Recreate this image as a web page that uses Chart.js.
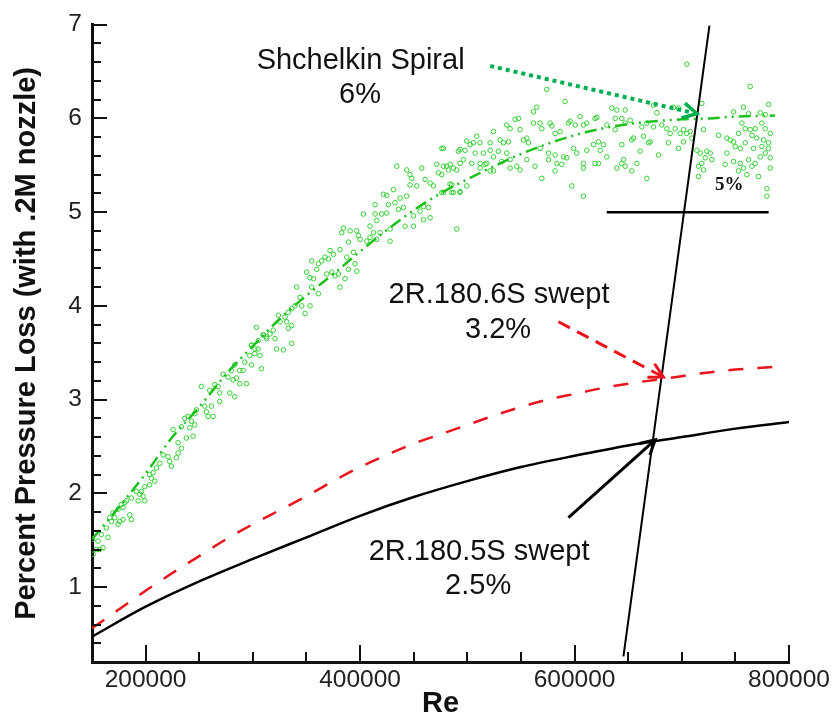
<!DOCTYPE html>
<html><head><meta charset="utf-8">
<script src="https://cdn.jsdelivr.net/npm/chart.js@4.4.0/dist/chart.umd.min.js"></script>
<style>html,body{margin:0;padding:0;background:#fff;}#wrap{width:835px;height:721px;}</style>
</head><body><div id="wrap"><canvas id="c" width="835" height="721"></canvas></div>
<script>
// ---- tick labels ----
const xTickValues = [200000, 400000, 600000, 800000];
const yTickValues = [1, 2, 3, 4, 5, 6, 7];

// ---- Shchelkin Spiral fit (dash-dot-dot) ----
const spiralFitRe = [150000,175000,200000,225000,250000,275000,300000,325000,350000,375000,400000,425000,450000,475000,500000,525000,550000,575000,600000,625000,650000,675000,700000,725000,750000,787000];
const spiralFitLoss = [1.51,1.85,2.21,2.60,2.92,3.27,3.57,3.86,4.11,4.34,4.58,4.81,5.02,5.20,5.35,5.49,5.62,5.73,5.82,5.89,5.94,5.97,5.99,6.00,6.02,6.03];

// ---- 2R.180.6S swept (red dashed) ----
const swept6SRe = [150000,175000,200000,225000,250000,275000,300000,325000,350000,375000,400000,425000,450000,475000,500000,525000,550000,575000,600000,625000,650000,675000,700000,725000,750000,775000,790000];
const swept6SLoss = [0.56,0.76,0.96,1.15,1.33,1.51,1.67,1.82,1.97,2.13,2.28,2.41,2.53,2.63,2.73,2.83,2.92,3.00,3.06,3.12,3.17,3.21,3.25,3.29,3.32,3.34,3.35];

// ---- 2R.180.5S swept (black solid) ----
const swept5SRe = [150000,200000,250000,300000,350000,400000,450000,500000,550000,600000,650000,700000,750000,800000];
const swept5SLoss = [0.47,0.79,1.06,1.30,1.53,1.76,1.96,2.13,2.28,2.40,2.51,2.60,2.69,2.76];

// ---- reference lines ----
const slantLineRe = [645600, 725800];
const slantLineLoss = [0.26, 6.99];
const fivePctLineRe = [630000, 781000];
const fivePctLineLoss = [5, 5];

// ---- annotation arrows ----
const spiralArrowRe = [521300, 714100];
const spiralArrowLoss = [6.56, 6.05];
const arrow6SRe = [585000, 682900];
const arrow6SLoss = [3.83, 3.24];
const arrow5SRe = [594300, 675200];
const arrow5SLoss = [1.74, 2.57];

// ---- annotation texts ----
const noteTexts = ['Shchelkin Spiral', '6%', '2R.180.6S swept', '3.2%', '2R.180.5S swept', '2.5%'];
const noteRe = [400500, 400000, 529600, 528700, 511000, 510100];
const noteLoss = [6.616, 6.245, 4.113, 3.742, 1.377, 1.006];
const fivePctText = '5%';
const fivePctRe = 744200;
const fivePctLoss = 5.29;

// ---- Shchelkin Spiral measured points [Re, loss] ----
const spiralScatter = [
[303400,3.77],[309600,3.69],[312700,3.67],[298700,3.58],[304900,3.54],[301800,3.49],[306500,3.47],[297100,3.47],[292500,3.40],[298700,3.37],[308000,3.33],[283100,3.37],[290900,3.31],[287800,3.31],[280000,3.31],[276900,3.24],[284700,3.23],[281600,3.21],[272300,3.27],[264500,3.16],[267600,3.14],[259800,3.10],[252000,3.14],[294000,3.17],[287800,3.17],[278500,3.07],[283100,3.03],[269100,3.07],[269100,2.98],[261400,2.93],[262900,2.82],[258300,2.82],[256700,2.87],[255200,2.93],[247400,2.89],[245800,2.85],[239600,2.82],[236500,2.80],[242700,2.77],[241200,2.70],[245800,2.73],[233400,2.71],[238000,2.59],[244300,2.61],[225600,2.68],[230300,2.54],[233400,2.48],[230300,2.43],[228700,2.38],[220900,2.39],[216300,2.41],[222500,2.34],[224000,2.29],[213200,2.32],[210100,2.27],[203800,2.20],[207000,2.22],[205400,2.16],[208500,2.13],[203800,2.09],[199200,2.07],[196100,2.02],[194500,1.99],[191400,2.02],[197600,1.97],[199200,1.92],[193000,1.92],[186700,1.95],[182100,1.92],[180500,1.90],[177400,1.88],[179000,1.85],[174300,1.83],[169600,1.79],[171200,1.74],[175800,1.70],[174300,1.67],[168100,1.70],[163400,1.63],[166500,1.74],[185200,1.77],[186700,1.72],[179000,1.72],[158700,1.56],[155600,1.49],[160300,1.42],[157200,1.40],[151000,1.35],[154100,1.40],[165000,1.53],[150500,1.51],
[476200,5.68],[493300,5.67],[434200,5.49],[443500,5.45],[457500,5.47],[471500,5.51],[477700,5.49],[484000,5.51],[482400,5.45],[473100,5.42],[476200,5.40],[446600,5.40],[448200,5.36],[460600,5.35],[465300,5.31],[468400,5.28],[446600,5.29],[452900,5.28],[431100,5.24],[421800,5.19],[424900,5.18],[443500,5.17],[437300,5.15],[432600,5.10],[426400,5.08],[414000,5.08],[440400,5.05],[435800,5.03],[485500,5.29],[493300,5.22],[485500,5.21],[477700,5.21],[463700,5.05],[459100,5.06],[456000,5.01],[465300,4.94],[459100,4.92],[449800,4.96],[442000,4.85],[449800,4.85],[428000,4.82],[428000,4.69],[418700,4.78],[412400,4.78],[409300,4.85],[415500,4.71],[406200,4.69],[403100,4.98],[414000,4.98],[420200,4.98],[415500,4.91],[424900,4.99],[396900,4.80],[390700,4.80],[384400,4.83],[382900,4.78],[400000,4.71],[398400,4.75],[409300,4.73],[389100,4.68],[381300,4.60],[375100,4.55],[372000,4.59],[393800,4.57],[387600,4.52],[370400,4.50],[367300,4.52],[364200,4.48],[361100,4.45],[354900,4.48],[359600,4.39],[350200,4.36],[353300,4.30],[356500,4.29],[368900,4.34],[373600,4.36],[376700,4.32],[379800,4.34],[386000,4.29],[395300,4.45],[396900,4.37],[389100,4.39],[381300,4.20],[361100,4.13],[354900,4.20],[340900,4.20],[344000,4.09],[339300,4.00],[345600,4.00],[353300,4.00],[348700,3.92],[336200,3.97],[333100,3.93],[330000,3.88],[323800,3.90],[325400,3.83],[331600,3.83],[336200,3.79],[333100,3.76],[319100,3.74],[316000,3.70],[309800,3.69],[312900,3.65],[305100,3.63],[298900,3.58],[302000,3.54],[320700,3.65],[336200,3.60],[328500,3.53],[322200,3.54],[490200,4.82],
[704700,6.58],[763800,6.34],[574100,6.31],[591200,6.18],[564800,6.12],[561700,6.07],[634800,6.11],[639400,6.09],[647200,6.09],[676800,6.06],[673600,6.14],[692300,6.12],[697000,6.11],[718700,6.16],[757600,6.12],[780900,6.15],[748300,6.07],[762300,6.05],[773200,6.06],[777800,6.04],[544600,5.99],[547700,6.00],[536800,5.93],[539900,5.89],[549200,5.88],[561700,5.95],[567900,5.95],[569500,5.89],[577200,5.95],[578800,5.92],[586600,5.86],[581900,5.84],[595900,5.97],[594300,5.95],[600600,5.93],[605200,6.02],[608300,5.93],[611400,5.95],[619200,6.00],[620800,6.01],[630100,5.93],[637900,6.00],[644100,6.00],[651900,5.98],[647200,5.95],[637900,5.88],[662800,5.91],[667400,5.95],[673600,5.91],[681400,5.93],[686100,5.89],[689200,5.84],[693900,5.89],[698500,5.84],[704700,5.84],[701600,5.88],[707900,5.86],[720300,5.88],[756100,5.95],[759200,5.89],[752900,5.84],[763800,5.88],[768500,5.89],[774700,5.95],[777800,5.89],[782500,5.84],[765400,5.82],[770000,5.79],[776300,5.77],[780900,5.74],[774700,5.70],[766900,5.68],[759200,5.74],[754500,5.68],[748300,5.75],[749800,5.70],[745200,5.77],[734300,5.82],[742100,5.79],[508800,5.81],[524400,5.86],[530600,5.77],[533700,5.74],[538400,5.75],[555500,5.79],[557000,5.74],[552400,5.77],[521300,5.74],[511900,5.74],[505700,5.74],[499500,5.76],[502600,5.72],[491700,5.65],[497900,5.66],[507300,5.63],[515000,5.63],[521300,5.66],[524400,5.59],[529000,5.65],[536800,5.63],[539900,5.56],[532100,5.54],[511900,5.52],[516600,5.51],[518100,5.52],[504100,5.52],[496400,5.56],[493300,5.52],[477700,5.68],[480800,5.49],[490200,5.45],[487000,5.47],[511900,5.47],[521300,5.44],[524400,5.44],[539900,5.47],[546100,5.49],[549200,5.45],[555500,5.56],[567900,5.68],[575700,5.63],[575700,5.56],[581900,5.61],[583500,5.52],[589700,5.59],[592800,5.58],[599000,5.68],[602100,5.63],[611400,5.66],[617700,5.72],[622300,5.75],[623900,5.66],[627000,5.72],[630100,5.59],[619200,5.52],[622300,5.52],[608300,5.52],[608300,5.47],[588100,5.51],[581900,5.44],[563200,5.49],[569500,5.36],[597400,5.28],[608300,5.17],[644100,5.72],[653400,5.77],[661200,5.65],[669000,5.74],[670500,5.75],[664300,5.81],[655000,5.79],[645700,5.56],[644100,5.52],[639400,5.47],[647200,5.49],[653400,5.44],[658100,5.52],[667400,5.36],[678300,5.61],[687600,5.74],[697000,5.68],[701600,5.75],[709400,5.79],[714100,5.66],[717200,5.63],[723400,5.65],[726500,5.63],[721800,5.58],[718700,5.52],[715600,5.49],[720300,5.45],[728100,5.56],[740500,5.51],[748300,5.54],[754500,5.52],[757600,5.47],[765400,5.49],[762300,5.56],[768500,5.52],[773200,5.59],[777800,5.63],[780900,5.68],[782500,5.58],[782500,5.47],[771600,5.38],[760700,5.40],[752900,5.44],[742100,5.63],[715600,5.38],[779400,5.25],[779400,5.17],[476200,5.21],[483900,5.30],[487000,5.21],[493300,5.21],[499500,5.28]
];

const FONT = '"Liberation Sans", Arial, sans-serif';
const toXY = (xs, ys) => xs.map((x, i) => ({x: x, y: ys[i]}));

const axisTicksPlugin = {
  id: 'axisTicks',
  afterDraw(chart) {
    const {ctx, chartArea: a, scales: {x, y}} = chart;
    ctx.save();
    ctx.strokeStyle = '#111';
    ctx.lineWidth = 2;
    ctx.beginPath();
    for (let i = 4; i <= 16; i++) {
      const v = i * 50000;
      const px = Math.round(x.getPixelForValue(v));
      const len = (i % 4 === 0) ? 17 : 10;
      ctx.moveTo(px, a.bottom);
      ctx.lineTo(px, a.bottom - len);
    }
    for (let i = 2; i <= 35; i++) {
      const v = i * 0.2;
      const py = Math.round(y.getPixelForValue(v));
      const len = (i % 5 === 0) ? 15 : 9;
      ctx.moveTo(a.left, py);
      ctx.lineTo(a.left + len, py);
    }
    ctx.stroke();
    ctx.restore();
  }
};

function arrowHead(ctx, x0, y0, x1, y1, len, ang) {
  const t = Math.atan2(y1 - y0, x1 - x0);
  ctx.beginPath();
  ctx.moveTo(x1 - len * Math.cos(t - ang), y1 - len * Math.sin(t - ang));
  ctx.lineTo(x1, y1);
  ctx.lineTo(x1 - len * Math.cos(t + ang), y1 - len * Math.sin(t + ang));
  ctx.stroke();
}

const notesPlugin = {
  id: 'notes',
  afterDatasetsDraw(chart) {
    const {ctx, scales: {x, y}} = chart;
    ctx.save();
    ctx.setLineDash([]);
    const heads = [
      [spiralArrowRe, spiralArrowLoss, '#00b050', 3.5],
      [arrow6SRe, arrow6SLoss, '#e8141c', 3],
      [arrow5SRe, arrow5SLoss, '#000', 3]
    ];
    heads.forEach(([rx, ly, col, w]) => {
      ctx.strokeStyle = col;
      ctx.lineWidth = w;
      ctx.lineJoin = 'miter';
      arrowHead(ctx, x.getPixelForValue(rx[0]), y.getPixelForValue(ly[0]),
                x.getPixelForValue(rx[1]), y.getPixelForValue(ly[1]), 16, 0.5);
    });
    ctx.fillStyle = '#111';
    ctx.textAlign = 'center';
    ctx.textBaseline = 'middle';
    ctx.font = '29px ' + FONT;
    noteTexts.forEach((t, i) => {
      ctx.fillText(t, x.getPixelForValue(noteRe[i]), y.getPixelForValue(noteLoss[i]));
    });
    ctx.font = 'bold 19px "Liberation Serif", "Times New Roman", serif';
    ctx.fillText(fivePctText, x.getPixelForValue(fivePctRe), y.getPixelForValue(fivePctLoss));
    ctx.restore();
  }
};

const lineBase = {showLine: true, pointRadius: 0, pointHoverRadius: 0, fill: false};

new Chart(document.getElementById('c'), {
  type: 'scatter',
  data: {
    datasets: [
      Object.assign({}, lineBase, {label: 'Slant line', data: toXY(slantLineRe, slantLineLoss), borderColor: '#000', borderWidth: 2, order: 1}),
      Object.assign({}, lineBase, {label: '5% line', data: toXY(fivePctLineRe, fivePctLineLoss), borderColor: '#000', borderWidth: 2.5, order: 1}),
      Object.assign({}, lineBase, {label: 'Spiral arrow', data: toXY(spiralArrowRe, spiralArrowLoss), borderColor: '#00b050', borderWidth: 4, borderDash: [4, 4], order: 1}),
      Object.assign({}, lineBase, {label: '6S arrow', data: toXY(arrow6SRe, arrow6SLoss), borderColor: '#e8141c', borderWidth: 3, borderDash: [13, 8], order: 1}),
      Object.assign({}, lineBase, {label: '5S arrow', data: toXY(arrow5SRe, arrow5SLoss), borderColor: '#000', borderWidth: 3, order: 1}),
      Object.assign({}, lineBase, {label: '2R.180.5S swept', data: toXY(swept5SRe, swept5SLoss), borderColor: '#000', borderWidth: 2.5, cubicInterpolationMode: 'monotone', order: 2}),
      Object.assign({}, lineBase, {label: '2R.180.6S swept', data: toXY(swept6SRe, swept6SLoss), borderColor: '#e8141c', borderWidth: 2.5, borderDash: [15, 14], cubicInterpolationMode: 'monotone', order: 2}),
      Object.assign({}, lineBase, {label: 'Shchelkin Spiral fit', data: toXY(spiralFitRe, spiralFitLoss), borderColor: '#1cc01c', borderWidth: 2.5, borderDash: [12, 5, 2, 5, 2, 5], cubicInterpolationMode: 'monotone', order: 3}),
      {label: 'Shchelkin Spiral', data: spiralScatter.map(p => ({x: p[0], y: p[1]})), showLine: false,
       pointRadius: 2.3, pointHoverRadius: 2.3, pointBorderWidth: 1, pointBorderColor: '#33d033', pointBackgroundColor: 'rgba(0,0,0,0)', order: 4}
    ]
  },
  options: {
    responsive: false,
    animation: false,
    devicePixelRatio: 1,
    layout: {padding: {left: 0, right: 46, top: 21, bottom: 0}},
    plugins: {legend: {display: false}, tooltip: {enabled: false}},
    scales: {
      x: {
        type: 'linear', min: 150000, max: 800000,
        afterBuildTicks: s => { s.ticks = xTickValues.map(v => ({value: v})); },
        afterFit: s => { s.height = 59; },
        grid: {display: false, drawTicks: false},
        border: {display: true, width: 3, color: '#111'},
        ticks: {padding: 4, autoSkip: false, maxRotation: 0, color: '#222', font: {family: FONT, size: 24.5}, callback: v => String(v)},
        title: {display: true, text: 'Re', color: '#111', font: {family: FONT, size: 29, weight: 'bold'}, padding: {top: 0, bottom: 0}}
      },
      y: {
        type: 'linear', min: 0.2, max: 7,
        afterBuildTicks: s => { s.ticks = yTickValues.map(v => ({value: v})); },
        afterFit: s => { s.width = 92; },
        grid: {display: false, drawTicks: false},
        border: {display: true, width: 3, color: '#111'},
        ticks: {padding: 10, color: '#222', font: {family: FONT, size: 24.5}, callback: v => String(v)},
        title: {display: true, text: 'Percent Pressure Loss (with .2M nozzle)', color: '#111', font: {family: FONT, size: 29, weight: 'bold'}, padding: {top: 10, bottom: 0}}
      }
    }
  },
  plugins: [axisTicksPlugin, notesPlugin]
});
</script>
</body></html>
